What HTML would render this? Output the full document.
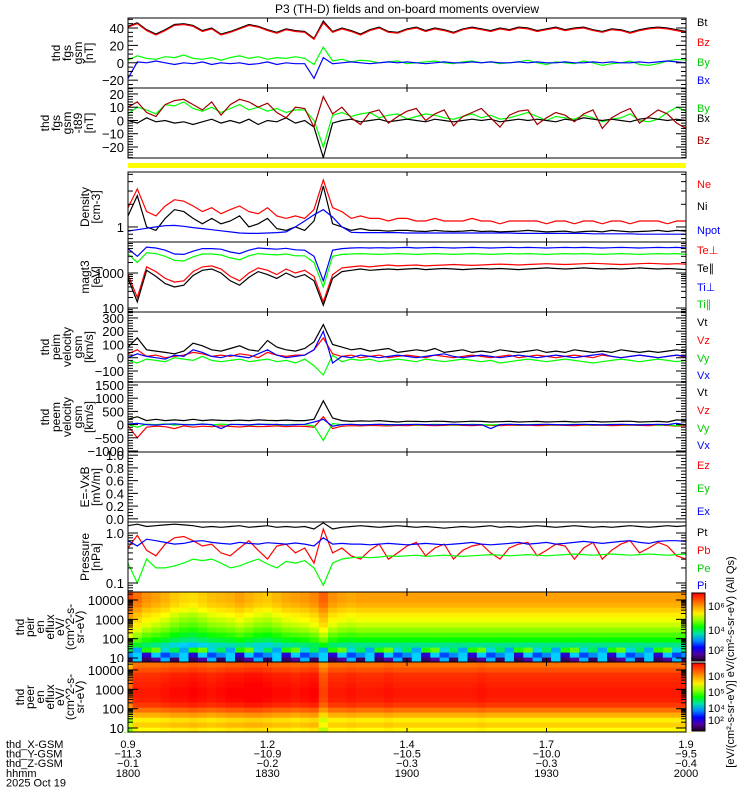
<!DOCTYPE html>
<html><head><meta charset="utf-8">
<style>
html,body{margin:0;padding:0;background:#fff;}
svg{display:block;font-family:"Liberation Sans",sans-serif;}
</style></head>
<body>
<svg id="chart" width="750" height="800" viewBox="0 0 750 800" xmlns="http://www.w3.org/2000/svg">
<text x="407" y="13" text-anchor="middle" font-size="12">P3 (TH-D) fields and on-board moments overview</text>
<rect x="128" y="163" width="558" height="5" fill="#ffff00"/>
</svg>
<script>
// ---- data (samples evenly spaced, 1800 -> 2000 UT) ----
const fgsBt=[42,46,38,33,38,44,45,43,37,40,33,36,40,44,42,38,35,39,37,36,28,48,36,40,37,33,38,41,36,35,39,41,37,40,38,35,39,41,39,37,40,38,41,40,37,39,41,38,40,41,38,36,39,38,35,38,40,41,40,38,36];
const fgsBz=[41,45,37,32,37,43,44,42,36,39,32,35,39,43,41,37,34,38,36,35,27,46,35,39,36,32,37,40,35,34,38,40,36,39,37,34,38,40,38,36,39,37,40,39,36,38,40,37,39,40,37,35,38,37,34,37,39,40,39,37,35];
const fgsBy=[3,8,5,4,7,6,9,5,4,6,3,6,8,5,7,4,6,5,7,5,-2,18,2,4,1,3,2,0,1,2,-1,0,1,2,0,-1,1,2,0,1,-1,0,1,3,0,-2,1,0,-1,2,0,-3,-1,0,2,-2,-3,-1,2,4,3];
const fgsBx=[-18,1,0,2,0,-2,0,-1,1,-2,0,-1,0,-2,-1,1,-2,0,-1,-1,-18,6,-1,0,1,0,-1,0,1,0,1,0,-1,0,1,0,0,1,0,1,0,0,1,0,1,0,0,1,0,0,1,0,1,0,0,1,0,1,2,1,0];
const t89By=[5,10,8,5,12,11,14,9,7,10,6,9,12,8,10,7,9,6,8,8,0,-20,4,6,3,5,6,2,4,5,1,3,5,4,2,1,3,5,2,4,1,2,4,6,3,0,3,2,1,4,2,-1,1,2,5,0,-1,1,6,10,7];
const t89Bx=[0,-2,2,-1,0,-2,-1,-3,-1,1,-2,0,-2,1,-3,0,-1,2,-2,0,-5,-28,-2,0,1,-1,0,1,-1,0,1,0,-1,1,0,-1,0,1,0,1,-1,0,1,0,1,0,-1,1,0,2,1,0,1,0,-1,1,2,1,0,1,0];
const t89Bz=[10,14,6,3,12,15,16,12,8,14,4,12,16,14,10,13,6,2,10,9,-5,18,5,10,2,-3,6,8,-2,3,7,9,0,5,8,-4,3,6,9,2,-5,4,7,8,-3,2,6,4,-1,5,8,-6,2,6,9,-2,3,8,5,-2,-6];
const densNe=[1.8,3.2,1.6,1.4,1.9,2.3,2.2,1.9,1.6,1.8,1.5,1.7,1.9,1.6,1.5,1.8,1.4,1.3,1.4,1.3,1.7,4.2,1.8,1.6,1.3,1.4,1.3,1.3,1.2,1.3,1.3,1.2,1.2,1.3,1.2,1.2,1.2,1.3,1.2,1.2,1.1,1.2,1.2,1.2,1.2,1.1,1.2,1.2,1.1,1.2,1.2,1.1,1.2,1.2,1.1,1.2,1.2,1.2,1.1,1.2,1.2];
const densNi=[1.4,2.6,1.0,0.9,1.3,1.7,1.6,1.3,1.1,1.3,1.1,1.2,1.4,1.0,1.1,1.3,0.95,0.9,1.0,0.9,1.2,3.5,1.1,1.0,0.9,0.95,0.9,0.9,0.88,0.9,0.9,0.88,0.87,0.9,0.88,0.87,0.88,0.9,0.87,0.88,0.86,0.87,0.88,0.9,0.88,0.86,0.87,0.88,0.85,0.87,0.88,0.86,0.9,0.88,0.86,0.87,0.88,0.9,0.87,0.9,0.88];
const densNpot=[0.88,0.92,0.96,1.0,1.04,1.05,1.02,0.98,0.95,0.92,0.89,0.86,0.83,0.82,0.82,0.83,0.84,0.86,1.0,1.2,1.45,1.7,1.35,1.0,0.85,0.84,0.84,0.84,0.84,0.84,0.83,0.83,0.83,0.83,0.83,0.83,0.83,0.83,0.83,0.83,0.83,0.83,0.82,0.82,0.82,0.82,0.82,0.82,0.82,0.82,0.81,0.81,0.81,0.81,0.81,0.8,0.8,0.8,0.8,0.8,0.8];
const tempTiPerp=[5000,3000,5500,5200,4500,3500,3400,4200,5000,5000,4800,4000,3600,4500,5200,5000,4800,5100,4600,4500,3000,600,4500,5000,5200,5300,5200,5300,5200,5300,5400,5200,5300,5400,5300,5200,5300,5400,5300,5200,5300,5400,5300,5400,5300,5200,5300,5400,5300,5400,5300,5200,5300,5400,5300,5200,5300,5400,5300,5400,5200];
const tempTiPar=[3500,2000,3800,3600,3000,2300,2200,2900,3500,3500,3300,2700,2400,3100,3600,3400,3300,3500,3100,3100,2000,400,3000,3400,3500,3600,3500,3400,3500,3600,3500,3400,3500,3600,3500,3400,3500,3600,3500,3400,3500,3600,3500,3600,3500,3400,3500,3600,3500,3600,3500,3400,3500,3600,3500,3400,3500,3600,3500,3600,3400];
const tempTePerp=[900,200,1500,1100,700,550,600,1100,1500,1600,1300,800,600,1000,1400,1200,900,1300,1000,1200,800,150,900,1400,1500,1600,1500,1600,1700,1600,1650,1700,1600,1650,1700,1750,1700,1650,1700,1750,1800,1750,1700,1750,1800,1850,1800,1750,1800,1850,1900,1850,1800,1750,1800,1850,1900,1850,1800,1850,1800];
const tempTePar=[700,150,1200,800,500,400,450,850,1200,1300,1000,600,450,750,1100,900,700,1000,750,900,600,120,700,1100,1200,1300,1200,1250,1300,1250,1300,1350,1250,1300,1350,1300,1250,1300,1350,1300,1350,1300,1250,1300,1350,1400,1350,1300,1350,1400,1350,1300,1350,1300,1350,1400,1350,1300,1350,1300,1250];
const peimVt=[80,150,60,50,40,30,50,110,90,60,50,70,90,60,50,130,80,60,50,70,120,250,100,80,60,70,50,60,70,40,50,60,50,70,40,50,60,40,50,40,60,50,40,50,60,40,50,40,60,50,40,50,40,60,50,40,50,40,50,60,50];
const peimVz=[30,60,10,20,0,10,20,40,30,10,20,10,30,20,0,40,20,10,20,20,60,150,30,10,20,0,10,20,0,10,20,10,0,20,10,0,10,20,10,0,10,20,0,10,20,10,0,10,20,10,0,20,10,0,10,20,10,0,10,20,0];
const peimVy=[-20,-40,-10,-20,-30,0,-10,-20,10,-20,-30,-20,-10,-30,-20,-10,-30,-20,-40,-10,-60,-130,20,-30,-10,-20,-10,-30,-20,-10,-20,-30,-10,-20,-30,-20,-10,-20,-30,-20,-40,-30,-20,-10,-20,-30,-20,-10,-20,-30,-40,-30,-20,-10,-20,-30,-20,-10,-20,-30,-20];
const peimVx=[0,30,10,0,-10,20,10,60,40,10,0,20,10,0,30,60,20,0,10,20,60,200,-40,10,0,20,10,0,10,20,10,0,10,20,30,10,0,10,20,10,0,10,20,10,0,10,20,10,0,10,20,30,10,0,10,20,10,0,10,20,10];
const peemVt=[200,300,150,200,150,180,150,200,150,180,160,150,170,150,180,160,150,170,150,150,200,900,250,150,120,140,130,150,120,100,130,120,110,130,120,100,110,130,120,100,110,120,100,110,120,100,110,120,100,110,120,100,110,120,130,100,110,120,100,180,150];
const peemVz=[-50,-500,-100,-60,-80,-150,-50,-100,-60,-80,-50,-70,-90,-60,-80,-70,-50,-80,-60,-70,-100,300,-150,-60,-40,-50,-30,-40,-50,-30,-40,-20,-30,-40,-30,-20,-30,-40,-20,-30,-40,-20,-30,-20,-40,-30,-20,-30,-40,-20,-30,-20,-40,-30,-20,-30,-40,-20,-30,-60,-40];
const peemVy=[0,-100,20,0,30,-20,10,0,30,-10,20,0,10,-20,0,20,-10,0,10,0,-50,-600,40,0,10,-10,0,10,-20,0,10,-10,0,10,0,-10,0,10,0,-10,0,10,-10,0,10,0,-10,0,10,0,-10,0,10,0,-10,0,10,-20,0,-50,10];
const peemVx=[20,50,0,-20,10,30,0,-10,20,0,-150,10,0,-10,20,0,10,-20,0,10,100,200,-60,0,10,-10,0,10,0,-10,0,10,0,-10,0,10,0,-10,0,-150,0,10,0,-10,0,10,0,-10,0,10,0,-10,0,10,0,-10,0,10,0,50,-10];
const presPt=[1.4,1.5,1.35,1.4,1.45,1.5,1.45,1.4,1.3,1.35,1.3,1.35,1.4,1.3,1.35,1.4,1.3,1.35,1.3,1.35,1.2,1.6,1.2,1.3,1.35,1.4,1.35,1.3,1.35,1.4,1.35,1.3,1.35,1.3,1.25,1.3,1.35,1.3,1.35,1.4,1.3,1.35,1.3,1.35,1.4,1.35,1.3,1.35,1.4,1.35,1.3,1.35,1.3,1.35,1.4,1.35,1.3,1.35,1.4,1.35,1.4];
const presPb=[0.5,0.9,0.45,0.35,0.6,0.8,0.85,0.7,0.55,0.6,0.4,0.35,0.5,0.7,0.45,0.3,0.55,0.6,0.4,0.5,0.25,1.2,0.4,0.5,0.35,0.3,0.45,0.6,0.3,0.4,0.55,0.65,0.35,0.5,0.6,0.3,0.45,0.55,0.6,0.4,0.3,0.5,0.6,0.65,0.35,0.45,0.6,0.55,0.3,0.5,0.65,0.3,0.45,0.6,0.7,0.4,0.5,0.65,0.55,0.35,0.3];
const presPe=[0.25,0.1,0.3,0.2,0.2,0.22,0.25,0.3,0.28,0.3,0.25,0.2,0.22,0.26,0.3,0.24,0.2,0.27,0.25,0.28,0.2,0.09,0.25,0.3,0.32,0.33,0.32,0.33,0.35,0.34,0.35,0.36,0.34,0.35,0.36,0.35,0.34,0.35,0.36,0.37,0.36,0.35,0.36,0.37,0.36,0.35,0.36,0.37,0.38,0.37,0.36,0.37,0.38,0.37,0.36,0.37,0.38,0.37,0.36,0.37,0.38];
const presPi=[0.7,0.55,0.75,0.7,0.65,0.6,0.62,0.68,0.7,0.65,0.62,0.6,0.65,0.62,0.6,0.64,0.62,0.6,0.63,0.6,0.55,0.8,0.6,0.62,0.6,0.6,0.58,0.6,0.62,0.6,0.58,0.6,0.62,0.6,0.58,0.6,0.62,0.65,0.6,0.58,0.6,0.62,0.65,0.6,0.62,0.65,0.6,0.62,0.65,0.68,0.65,0.62,0.65,0.68,0.7,0.65,0.62,0.68,0.7,0.7,0.68];
// spectrogram levels (0..1 colour scale), energy bins low -> high
const ionProfile=[0.1,0.2,0.32,0.42,0.5,0.55,0.6,0.64,0.67,0.7,0.74,0.78,0.8,0.8];
const ionNoise=[0,0.2,0.05,0.3,0.1,0.25,0,0.15,0.3,0.05,0.2,0.1,0.28,0,0.18];
const ionShift=[0.12,0.06,0.02,0,-0.02,-0.05,-0.07,-0.08,-0.06,-0.04,-0.03,-0.02,0,-0.02,-0.04,-0.05,-0.03,-0.01,0,0.01,0.03,0.08,0.02,0,-0.01,0,0,0,0,0,0,0,0,0,0,0,0,0,0,0,0,0,0,0,0,0,0,0,0,0,0,0,0,0,0,0,0,0,0,0,0];
const eleProfile=[0.68,0.74,0.7,0.78,0.86,0.93,0.96,0.97,0.97,0.96,0.95,0.94,0.9,0.86];
const eleShift=[-0.1,0,0,0,0.01,0.02,0.02,0.03,0.02,0.01,0.02,0.03,0.03,0.04,0.04,0.03,0.02,0.02,0.01,0.02,0.03,-0.05,0,0,0.01,0,0,0,0.01,0,0,0,0,0,0,0,0,0,0.01,0,0,0,0,0,0,0,0,0,0,0,0,0,0,0,0,0,0,0,0,0,0];
const posX=["0.9","1.2","1.4","1.7","1.9"];
const posY=["-11.3","-10.9","-10.5","-10.0","-9.5"];
const posZ=["-0.1","-0.2","-0.3","-0.3","-0.4"];
const hhmm=["1800","1830","1900","1930","2000"];

const NS='http://www.w3.org/2000/svg';
const svg=document.getElementById('chart');
const X0=128,X1=686;
const xOf=(i,n)=>X0+(X1-X0)*i/(n-1);
function mk(tag,attrs,parent){const e=document.createElementNS(NS,tag);for(const k in attrs)e.setAttribute(k,attrs[k]);(parent||svg).appendChild(e);return e;}

const panels=[
 {name:'fgs-gsm',top:18,bot:88,lo:-29,hi:51.5,log:false,ticks:[-20,0,20,40],minor:5,label:['thd','fgs','gsm','[nT]'],
  series:[[fgsBt,'#000'],[fgsBz,'#ff0000'],[fgsBy,'#00ff00'],[fgsBx,'#0000ff']],leg:[['Bt','#000'],['Bz','#f00'],['By','#0c0'],['Bx','#00f']],legY:[22,42,62,80]},
 {name:'fgs-gsm-t89',top:88,bot:158,lo:-28.3,hi:24.5,log:false,ticks:[-20,-10,0,10,20],minor:2,label:['thd','fgs','gsm','-t89','[nT]'],
  series:[[t89By,'#00ff00'],[t89Bx,'#000'],[t89Bz,'#a00000']],leg:[['By','#0c0'],['Bx','#000'],['Bz','#a00000']],legY:[108,118,140]},
 {name:'density',top:172,bot:242,lo:-0.2,hi:0.73,log:true,ticks:[1],tl:['1'],label:['Density','[cm-3]'],
  series:[[densNe,'#ff0000'],[densNi,'#000'],[densNpot,'#0000ff']],leg:[['Ne','#f00'],['Ni','#000'],['Npot','#00f']],legY:[184,206,230]},
 {name:'temperature',top:242,bot:312,lo:Math.log10(77),hi:Math.log10(7700),log:true,ticks:[100,1000],tl:['100','1000'],label:['magt3','[eV]'],
  series:[[tempTiPerp,'#0000ff'],[tempTiPar,'#00ff00'],[tempTePerp,'#ff0000'],[tempTePar,'#000']],leg:[['Te⊥','#f00'],['Te∥','#000'],['Ti⊥','#00f'],['Ti∥','#0c0']],legY:[250,268,287,304]},
 {name:'peim-velocity',top:312,bot:382,lo:-183,hi:345,log:false,ticks:[-100,0,100,200,300],minor:20,label:['thd','peim','velocity','gsm','[km/s]'],
  series:[[peimVt,'#000'],[peimVz,'#ff0000'],[peimVy,'#00ff00'],[peimVx,'#0000ff']],leg:[['Vt','#000'],['Vz','#f00'],['Vy','#0c0'],['Vx','#00f']],legY:[322,340,358,375]},
 {name:'peem-velocity',top:382,bot:452,lo:-1038,hi:1614,log:false,ticks:[-1000,-500,0,500,1000,1500],minor:100,label:['thd','peem','velocity','gsm','[km/s]'],
  series:[[peemVt,'#000'],[peemVz,'#ff0000'],[peemVy,'#00ff00'],[peemVx,'#0000ff']],leg:[['Vt','#000'],['Vz','#f00'],['Vy','#0c0'],['Vx','#00f']],legY:[392,410,428,445]},
 {name:'efield',top:452,bot:522,lo:-0.05,hi:1.05,log:false,ticks:[0,0.2,0.4,0.6,0.8,1.0],tl:['0.0','0.2','0.4','0.6','0.8','1.0'],minor:0.05,label:['E=-VxB','[mV/m]'],
  series:[],leg:[['Ez','#f00'],['Ey','#0c0'],['Ex','#00f']],legY:[465,488,511]},
 {name:'pressure',top:522,bot:592,lo:Math.log10(0.066),hi:Math.log10(1.66),log:true,ticks:[0.1,1.0],tl:['0.1','1.0'],label:['Pressure','[nPa]'],
  series:[[presPt,'#000'],[presPb,'#ff0000'],[presPe,'#00ff00'],[presPi,'#0000ff']],leg:[['Pt','#000'],['Pb','#f00'],['Pe','#0c0'],['Pi','#00f']],legY:[532,550,568,585]}
];

function yMap(p,v){const t=p.log?Math.log10(v):v;return p.bot-(t-p.lo)/(p.hi-p.lo)*(p.bot-p.top);}

const stops=[[0,[32,0,32]],[0.1,[80,0,160]],[0.2,[0,0,255]],[0.35,[0,208,255]],[0.5,[0,255,0]],[0.68,[255,255,0]],[0.82,[255,144,0]],[1,[255,0,0]]];
function cmap(v){v=Math.max(0,Math.min(1,v));for(let i=1;i<stops.length;i++){if(v<=stops[i][0]){const a=stops[i-1],b=stops[i];const f=(v-a[0])/(b[0]-a[0]);const c=a[1].map((x,k)=>Math.round(x+(b[1][k]-x)*f));return 'rgb('+c.join(',')+')';}}return 'rgb(255,0,0)';}

function timeTicks(top,bot,g){
  for(let k=1;k<4;k++){const x=X0+(X1-X0)*k/4;
    mk('line',{x1:x,y1:top,x2:x,y2:top+4,stroke:'#000'},g);
    mk('line',{x1:x,y1:bot,x2:x,y2:bot-4,stroke:'#000'},g);}
}
function leftLabel(lines,cy,g,name,right,sp){
  const start=right-(lines.length-1)*sp;
  const t=mk('text',{transform:`translate(${start},${cy}) rotate(-90)`,'text-anchor':'middle','font-size':'12'},g);
  
  
  lines.forEach((s,i)=>{const ts=mk('tspan',{x:0,dy:i?sp:0},t);ts.textContent=s;});
}

panels.forEach(p=>{
  const g=mk('g',{});
  
  
  const clip=mk('clipPath',{id:'c-'+p.name},g);mk('rect',{x:X0,y:p.top,width:X1-X0,height:p.bot-p.top},clip);
  p.series.forEach((s,si)=>{
    const n=s[0].length;
    const pts=s[0].map((v,i)=>xOf(i,n).toFixed(1)+','+yMap(p,v).toFixed(1)).join(' ');
    const pl=mk('polyline',{points:pts,fill:'none',stroke:s[1],'stroke-width':1.2,'clip-path':'url(#c-'+p.name+')'},g);
    
    
  });
  mk('rect',{x:X0,y:p.top,width:X1-X0,height:p.bot-p.top,fill:'none',stroke:'#000'},g);
  if(p.log){
    for(let d=Math.floor(p.lo);d<=Math.ceil(p.hi);d++){for(let m=1;m<10;m++){const v=m*Math.pow(10,d);const lv=Math.log10(v);if(lv<p.lo||lv>p.hi)continue;const y=yMap(p,v);const L=m==1?10:5;
      mk('line',{x1:X0,y1:y,x2:X0+L,y2:y,stroke:'#000'},g);mk('line',{x1:X1,y1:y,x2:X1-L,y2:y,stroke:'#000'},g);}}
  } else {
    const st=p.minor;for(let v=Math.ceil(p.lo/st)*st;v<=p.hi;v+=st){const y=yMap(p,v);const maj=p.ticks.some(t=>Math.abs(t-v)<st/10);const L=maj?10:5;
      mk('line',{x1:X0,y1:y,x2:X0+L,y2:y,stroke:'#000'},g);mk('line',{x1:X1,y1:y,x2:X1-L,y2:y,stroke:'#000'},g);}
  }
  p.ticks.forEach((v,i)=>{const t=mk('text',{x:X0-4,y:yMap(p,v)+5,'text-anchor':'end','font-size':'13'},g);
    
    
    t.textContent=p.tl?p.tl[i]:String(v).replace('-','−');});
  timeTicks(p.top,p.bot,g);
  leftLabel(p.label,(p.top+p.bot)/2,g,p.name,p.label.length>2?93:100,11);
  p.leg.forEach((l,i)=>{const t=mk('text',{x:697,y:p.legY[i]+4,'font-size':'11',fill:l[1]},g);
    
    
    t.textContent=l[0];});
});

function spectro(name,top,bot,profile,shift,noise,label){
  const g=mk('g',{});
  
  
  const n=shift.length,rows=profile.length,cw=(X1-X0)/(n-1),rh=(bot-top)/rows;
  const nr=noise?3:0;
  for(let i=0;i<n;i++){for(let r=0;r<rows;r++){
    let v=profile[r]+shift[i]*(r>=nr?1:0.3);
    if(r<nr)v=profile[r]+noise[(i*3+r*7)%noise.length]-0.05;
    mk('rect',{x:(X0+i*cw-cw/2).toFixed(1),y:(bot-(r+1)*rh).toFixed(1),width:(cw+0.6).toFixed(1),height:(rh+0.6).toFixed(1),fill:cmap(v)},g);
  }}
  mk('rect',{x:X0-10,y:top,width:10,height:bot-top,fill:'#fff'},g);
  mk('rect',{x:X1,y:top,width:5,height:bot-top,fill:'#fff'},g);
  mk('rect',{x:X0,y:top,width:X1-X0,height:bot-top,fill:'none',stroke:'#000'},g);
  const eY=e=>bot-4-(Math.log10(e)-1)/3*(bot-top-12);
  [10,100,1000,10000].forEach(e=>{const t=mk('text',{x:X0-4,y:eY(e)+5,'text-anchor':'end','font-size':'13'},g);
    
    
    t.textContent=String(e);
    for(let m=1;m<10;m++){const y=eY(e*m);if(y<top)break;const L=m==1?10:5;mk('line',{x1:X0,y1:y,x2:X0+L,y2:y,stroke:'#000'},g);mk('line',{x1:X1,y1:y,x2:X1-L,y2:y,stroke:'#000'},g);}
  });
  timeTicks(top,bot,g);
  leftLabel(label,(top+bot)/2,g,name,84,10);
  const gid='cb-'+name;const lg=mk('linearGradient',{id:gid,x1:0,y1:1,x2:0,y2:0},g);
  for(let k=0;k<=10;k++)mk('stop',{offset:k/10,'stop-color':cmap(k/10)},lg);
  const cb=mk('rect',{x:692,y:top+1,width:13,height:bot-top-2,fill:'url(#'+gid+')',stroke:'#000'},g);
  
  
  const labs=name==='peir'?['10⁶','10⁴','10²']:['10⁶','10⁵','10⁴','10²'];
  labs.forEach((s,i)=>{const t=mk('text',{x:708,y:top+18+i*(bot-top-22)/(labs.length-1)+(i==labs.length-1?-4:0),'font-size':'11'},g);
    
    
    t.textContent=s;});
}
spectro('peir',592,662,ionProfile,ionShift,ionNoise,['thd','peir','en','eflux','eV/','(cm^2-s-','sr-eV)']);
spectro('peer',662,732,eleProfile,eleShift,null,['thd','peer','en','eflux','eV/','(cm^2-s-','sr-eV)']);
const cbt=mk('text',{transform:'translate(734,662) rotate(-90)','text-anchor':'middle','font-size':'11'});


cbt.textContent='[eV/(cm²-s-sr-eV)] eV/(cm²-s-sr-eV) (All Qs)';

const names=['thd_X-GSM','thd_Y-GSM','thd_Z-GSM','hhmm','2025 Oct 19'];
names.forEach((s,i)=>{const t=mk('text',{x:6,y:748+i*9.6,'font-size':'11'});
  
  
  t.textContent=s;});
[posX,posY,posZ,hhmm].forEach((arr,r)=>{arr.forEach((s,k)=>{const x=X0+(X1-X0)*k/4;
  const t=mk('text',{x:x,y:748+r*9.6,'text-anchor':'middle','font-size':'11'});
  
  
  t.textContent=s.replace('-','−');});});
</script>
</body></html>
